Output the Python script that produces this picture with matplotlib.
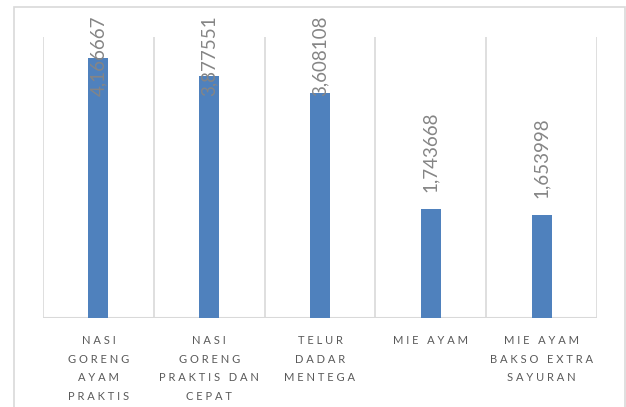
#!/usr/bin/env python

import matplotlib.pyplot as plt
from matplotlib.patches import Rectangle
import numpy as np

kategori = [
    ["NASI", "GORENG", "AYAM", "PRAKTIS"],
    ["NASI", "GORENG", "PRAKTIS DAN", "CEPAT"],
    ["TELUR", "DADAR", "MENTEGA"],
    ["MIE AYAM"],
    ["MIE AYAM", "BAKSO EXTRA", "SAYURAN"],
]
nilai = [4.166667, 3.877551, 3.608108, 1.743668, 1.653998]
label_nilai = ["4,166667", "3,877551", "3,608108", "1,743668", "1,653998"]


def renggang(teks):
    # Excel-style letter spacing
    kata = teks.split(" ")
    return "   ".join(" ".join(k) for k in kata)


def make_plot():
    W, H = 626, 407
    fig = plt.figure(figsize=(W / 100, H / 100), dpi=100)
    plt.rcParams['font.family'] = ['Lato', 'DejaVu Sans']

    # chart area border
    fig.patches.append(Rectangle((14 / W, -0.05), (625 - 14) / W, 1.05 - 7 / H,
                                 transform=fig.transFigure, fill=False,
                                 edgecolor="#D9D9D9", linewidth=1.2))

    ax = fig.add_axes([43 / W, (H - 318) / H, 554 / W, 281 / H])
    x = np.arange(len(nilai))
    ax.bar(x, nilai, width=0.18, color="#4F81BD", zorder=3)

    ax.set_xlim(-0.5, len(nilai) - 0.5)
    ax.set_ylim(0, 4.5)

    # vertical category gridlines
    for g in np.arange(-0.5, len(nilai), 1.0):
        ax.axvline(g, color="#D9D9D9", linewidth=1.2, zorder=1)
    ax.axhline(0, color="#D9D9D9", linewidth=1.5, zorder=2)

    for s in ax.spines.values():
        s.set_visible(False)
    ax.set_yticks([])
    ax.set_xticks([])

    # data labels, clamped to the chart area like Excel does
    px = 281 / 4.5
    gap = 17 / px
    tinggi = 82 / px
    batas = (318 - 15) / px
    for xi, v, lab in zip(x, nilai, label_nilai):
        if v + gap + tinggi > batas:
            ax.text(xi, batas, lab, rotation=90, ha="center", va="top",
                    fontsize=13.5, color="#858585", clip_on=False, zorder=4)
        else:
            ax.text(xi, v + gap, lab, rotation=90, ha="center", va="bottom",
                    fontsize=13.5, color="#858585", clip_on=False, zorder=4)

    # category labels
    for xi, baris in zip(x, kategori):
        teks = "\n".join(renggang(b) for b in baris)
        ax.annotate(teks, (xi, 0), xytext=(0, -17), textcoords="offset pixels",
                    ha="center", va="top", fontsize=8, color="#595959",
                    linespacing=1.85, annotation_clip=False)

    plt.savefig("out.png", dpi=100)
    plt.close()


def main():
    make_plot()


if __name__ == "__main__":
    main()
